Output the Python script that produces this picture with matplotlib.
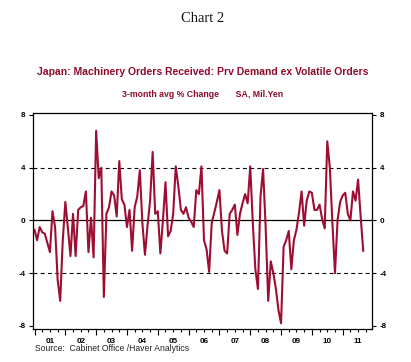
import numpy as np
import pandas as pd
import matplotlib
matplotlib.use("Agg")
import matplotlib.pyplot as plt
from matplotlib.ticker import FixedLocator, NullFormatter

plt.rcParams['axes.unicode_minus'] = False

# Monthly values, Jan 2001 .. Sep 2011 (3-month avg % change)
values = [
    -0.7, -1.5, -0.5, -0.9, -1.0, -1.7, -2.4, 0.7, -0.5, -4.5, -6.1, -1.5,   # 2001
    1.4, -0.6, -2.7, 0.5, -2.7, 0.8, 1.0, 1.1, 2.2, -2.4, 0.2, -2.8,          # 2002
    6.8, 3.2, 4.0, -5.8, 0.5, 1.0, 2.2, 1.9, 0.3, 4.5, 1.6, 1.2,              # 2003
    -0.5, 0.8, -2.3, 1.0, 1.8, 3.8, -0.2, -2.6, -0.4, 1.5, 5.2, 0.5,          # 2004
    0.7, -2.5, 0.0, 2.9, -1.2, -0.8, 0.5, 4.1, 2.6, 0.8, 0.5, 1.0,            # 2005
    0.2, -0.1, -0.5, 2.3, 2.0, 4.1, -1.5, -2.2, -3.9, -0.2, 0.6, 1.4,         # 2006
    2.3, -0.8, -2.3, -2.5, 0.5, 0.8, 1.2, -1.1, 0.5, 1.3, 2.0, 1.3,           # 2007
    4.1, -0.2, -3.7, -5.2, 1.8, 3.9, -0.5, -6.1, -3.1, -4.0, -5.2, -6.8,      # 2008
    -7.8, -2.0, -1.5, -0.8, -3.7, -1.5, -0.7, 0.6, 2.2, -0.4, 1.5, 2.2,       # 2009
    2.1, 0.8, 0.8, 1.2, 0.1, -0.6, 6.0, 4.0, -0.2, -4.0, 0.0, 1.4,            # 2010
    1.9, 2.1, 0.5, 0.0, 2.2, 1.5, 3.1, 0.3, -2.3,                             # 2011
]
year_labels = ["01", "02", "03", "04", "05", "06", "07", "08", "09", "10", "11"]
y_ticks = [-8, -4, 0, 4, 8]

months = pd.date_range("2001-01-01", periods=len(values), freq="MS")
x = months.year + (months.month - 1) / 12.0

red = "#9E0E32"
title_red = "#8E0B2C"

fig = plt.figure(figsize=(4.11, 3.62), dpi=100)
ax = fig.add_axes([0.081, 0.0912, 0.824, 0.5967])

ax.plot(x, values, color=red, lw=1.5, zorder=3)
ax.axhline(0, color="black", lw=0.9, zorder=2)
for v in (4, -4):
    ax.axhline(v, color="black", lw=0.8, ls=(0, (3.5, 3)), zorder=2)

ax.set_xlim(2000.96, 2011.95)
ax.set_ylim(-8.23, 8.15)

tick_font = dict(family="Liberation Sans", weight="bold", size=5.8)

ax.set_yticks(y_ticks)
ax.set_yticklabels([str(t) for t in y_ticks], **tick_font)
ax.tick_params(axis="y", which="major", direction="out", length=3, width=0.8,
               left=True, right=True, labelleft=True, labelright=True, pad=2.5)

years = np.arange(2001, 2012)
ax.xaxis.set_major_locator(FixedLocator(list(years) + [2012]))
ax.xaxis.set_major_formatter(NullFormatter())
ax.xaxis.set_minor_locator(FixedLocator([yr + q / 4 for yr in years for q in (1, 2, 3)]))
ax.tick_params(axis="x", which="major", direction="out", length=4, width=0.8)
ax.tick_params(axis="x", which="minor", direction="out", length=2.5, width=0.8)
for yr, lab in zip(years, year_labels):
    ax.text(yr + 0.5, -0.04, lab, transform=ax.get_xaxis_transform(),
            ha="center", va="top", **tick_font)

for s in ax.spines.values():
    s.set_linewidth(0.9)

fig.text(0.494, 0.950, "Chart 2", ha="center", va="center",
         family="Liberation Serif", size=10.5, color="#111111")
fig.text(0.494, 0.800, "Japan: Machinery Orders Received: Prv Demand ex Volatile Orders",
         ha="center", va="center", family="Liberation Sans", weight="bold",
         size=7.5, color=title_red)
fig.text(0.494, 0.740, "3-month avg % Change       SA, Mil.Yen",
         ha="center", va="center", family="Liberation Sans", weight="bold",
         size=6.3, color=title_red)
fig.text(0.085, 0.038, "Source:  Cabinet Office /Haver Analytics", ha="left",
         va="center", family="Liberation Sans", size=6.2, color="#222222")

fig.savefig("out.png", dpi=100)
